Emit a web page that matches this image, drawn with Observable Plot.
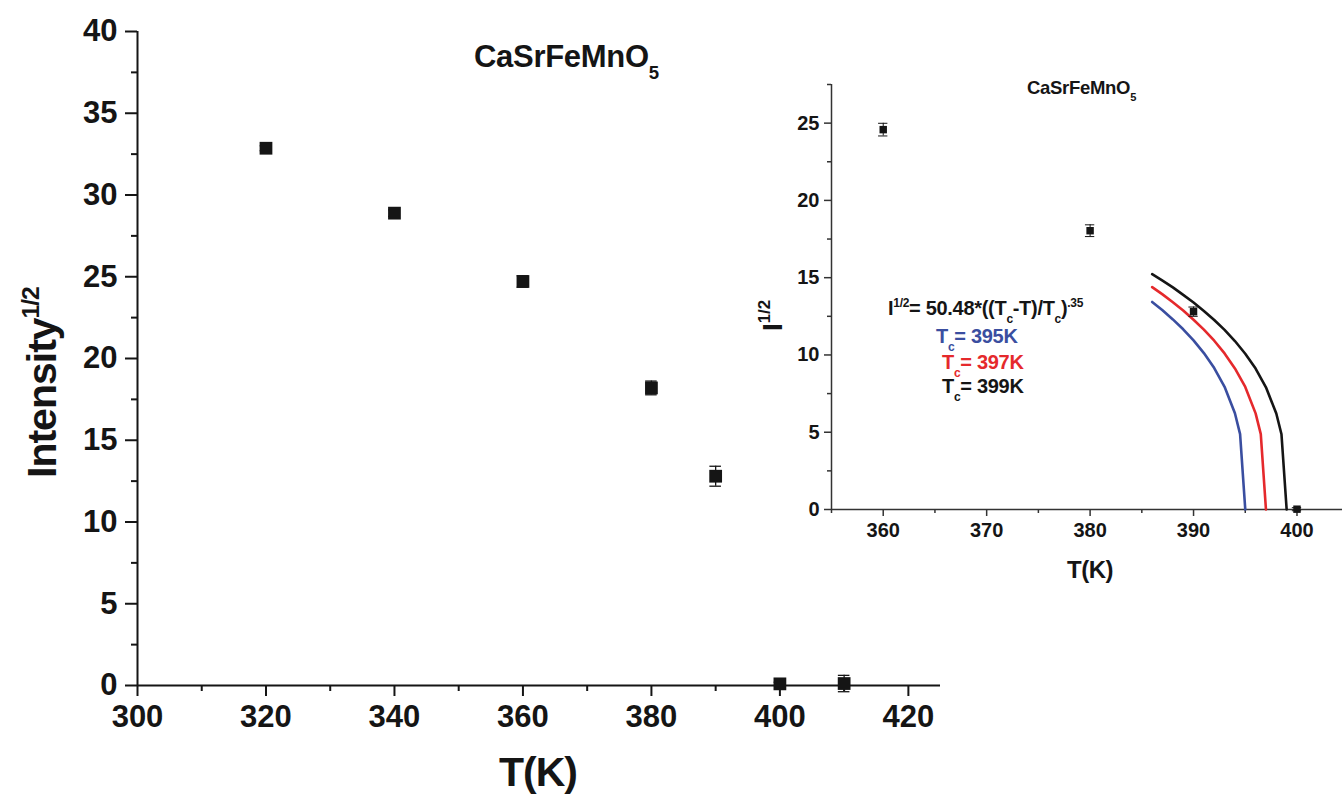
<!DOCTYPE html>
<html>
<head>
<meta charset="utf-8">
<script src="https://cdn.jsdelivr.net/npm/d3@7"></script>
<script src="https://cdn.jsdelivr.net/npm/@observablehq/plot@0.6"></script>
<style>
  html, body { margin: 0; padding: 0; background: #fff; }
  #wrap { position: relative; width: 1342px; height: 795px; background: #fff; overflow: hidden; }
  #wrap svg { position: absolute; overflow: visible; }
</style>
</head>
<body>
<div id="wrap"></div>
<script>
// ---------- data ----------
const mainT   = [320, 340, 360, 380, 390, 400, 410];
const mainI   = [32.86, 28.89, 24.71, 18.2, 12.8, 0.1, 0.12];
const mainErr = [0.15, 0.2, 0.35, 0.42, 0.61, 0.1, 0.5];

const insetT   = [360, 380, 390, 400];
const insetI   = [24.58, 18.04, 12.8, 0.02];
const insetErr = [0.41, 0.38, 0.3, 0.1];

// fitted curves I^1/2 = 50.48*((Tc-T)/Tc)^.35
const fitT395 = [386, 387, 388, 389, 390, 391, 392, 393, 394, 394.5, 395];
const fitI395 = [13.43, 12.89, 12.30, 11.66, 10.94, 10.12, 9.15, 7.94, 6.23, 4.88, 0];
const fitT397 = [386, 387, 388, 389, 390, 391, 392, 393, 394, 395, 396, 396.5, 397];
const fitI397 = [14.39, 13.92, 13.41, 12.87, 12.28, 11.64, 10.92, 10.10, 9.13, 7.93, 6.22, 4.88, 0];
const fitT399 = [386, 387, 388, 389, 390, 391, 392, 393, 394, 395, 396, 397, 398, 398.5, 399];
const fitI399 = [15.23, 14.81, 14.37, 13.89, 13.39, 12.85, 12.26, 11.62, 10.90, 10.08, 9.12, 7.91, 6.21, 4.87, 0];

const mainXTicks  = [300, 320, 340, 360, 380, 400, 420];
const mainXMinor  = [310, 330, 350, 370, 390, 410];
const mainYTicks  = [0, 5, 10, 15, 20, 25, 30, 35, 40];
const mainYMinor  = [2.5, 7.5, 12.5, 17.5, 22.5, 27.5, 32.5, 37.5];
const insetXTicks = [360, 370, 380, 390, 400];
const insetXMinor = [355, 365, 375, 385, 395];
const insetYTicks = [0, 5, 10, 15, 20, 25];
const insetYMinor = [2.5, 7.5, 12.5, 17.5, 22.5, 27.5];

const BLUE = "#3a4ea0", RED = "#e5292c", INK = "#151515";
const FONT = "'Liberation Sans', Arial, Helvetica, sans-serif";

// ---------- helpers ----------
const rows = (T, I, E) => T.map((t, i) => ({T: t, I: I[i], e: E ? E[i] : 0}));
const mainData = rows(mainT, mainI, mainErr);
const insetData = rows(insetT, insetI, insetErr);
const curves = [
  ...rows(fitT395, fitI395).map(d => ({...d, k: "395"})),
  ...rows(fitT397, fitI397).map(d => ({...d, k: "397"})),
  ...rows(fitT399, fitI399).map(d => ({...d, k: "399"}))
];

function rich(svg, x, y, parts, {size, color = INK, anchor = "start", rotate = 0, spacing = 0}) {
  const t = d3.select(svg).append("text")
    .attr("transform", `translate(${x},${y})` + (rotate ? ` rotate(${rotate})` : ""))
    .attr("text-anchor", anchor)
    .attr("fill", color)
    .attr("font-family", FONT)
    .attr("font-weight", "bold")
    .attr("letter-spacing", spacing)
    .attr("font-size", size);
  let cur = 0;
  for (const [s, m] of parts) {
    const off = m === "sup" ? -size * 0.42 : m === "sub" ? size * 0.38 : 0;
    t.append("tspan")
      .attr("dy", off - cur)
      .attr("font-size", m ? size * 0.6 : size)
      .text(s);
    cur = off;
  }
  return t;
}

// ---------- main chart ----------
const main = Plot.plot({
  width: 960, height: 795,
  marginLeft: 137, marginRight: 20, marginTop: 31, marginBottom: 110,
  x: {domain: [300, 425]},
  y: {domain: [0, 40]},
  style: {fontFamily: FONT, fontWeight: "bold", fontSize: "30px", color: INK, background: "transparent"},
  marks: [
    Plot.axisY({ticks: mainYTicks, tickSize: 12, tickPadding: 8, strokeWidth: 2, label: null, fontSize: 31, fontWeight: "bold"}),
    Plot.axisY({ticks: mainYMinor, tickSize: 6, tickFormat: () => "", strokeWidth: 2, label: null}),
    Plot.axisX({ticks: mainXTicks, tickSize: 11, tickPadding: 8, strokeWidth: 2, label: null, fontSize: 31, fontWeight: "bold"}),
    Plot.axisX({ticks: mainXMinor, tickSize: 6, tickFormat: () => "", strokeWidth: 2, label: null}),
    Plot.ruleX([300], {strokeWidth: 2, stroke: INK}),
    Plot.ruleY([0], {strokeWidth: 2, stroke: INK}),
    Plot.ruleX(mainData, {x: "T", y1: d => d.I - d.e, y2: d => d.I + d.e, stroke: INK, strokeWidth: 1.3}),
    Plot.ruleY(mainData, {y: d => d.I + d.e, x1: d => d.T - 0.9, x2: d => d.T + 0.9, stroke: INK, strokeWidth: 1.3}),
    Plot.ruleY(mainData, {y: d => d.I - d.e, x1: d => d.T - 0.9, x2: d => d.T + 0.9, stroke: INK, strokeWidth: 1.3}),
    Plot.dot(mainData, {x: "T", y: "I", symbol: "square", r: 7.2, fill: INK, stroke: null})
  ]
});
main.style.left = "0px"; main.style.top = "0px";

rich(main, 474, 67, [["CaSrFeMnO", ""], ["5", "sub"]], {size: 31, spacing: -0.3});
rich(main, 56, 478, [["Intensity", ""], ["1/2", "sup"]], {size: 41, rotate: -90, spacing: -1});
rich(main, 538, 786, [["T(K)", ""]], {size: 41, anchor: "middle", spacing: -1});

// ---------- inset ----------
const AX = "#333";
const inset = Plot.plot({
  width: 582, height: 540,
  marginLeft: 71, marginRight: 0, marginTop: 24, marginBottom: 91,
  x: {domain: [355, 404.4]},
  y: {domain: [0, 27.5]},
  color: {domain: ["395", "397", "399"], range: [BLUE, RED, INK]},
  style: {fontFamily: FONT, fontWeight: "bold", fontSize: "20px", color: INK, background: "transparent"},
  marks: [
    Plot.axisY({ticks: insetYTicks, tickSize: 7, tickPadding: 5, strokeWidth: 1.5, stroke: AX, label: null, fontSize: 20, fontWeight: "bold"}),
    Plot.axisY({ticks: insetYMinor, tickSize: 4, tickFormat: () => "", strokeWidth: 1.5, stroke: AX, label: null}),
    Plot.axisX({ticks: insetXTicks, tickSize: 7, tickPadding: 6, strokeWidth: 1.5, stroke: AX, label: null, fontSize: 20, fontWeight: "bold"}),
    Plot.axisX({ticks: insetXMinor, tickSize: 4, tickFormat: () => "", strokeWidth: 1.5, stroke: AX, label: null}),
    Plot.ruleX([355], {strokeWidth: 1.5, stroke: AX}),
    Plot.ruleY([0], {strokeWidth: 1.5, stroke: AX}),
    Plot.line(curves, {x: "T", y: "I", z: "k", stroke: "k", strokeWidth: 2.6, curve: "linear"}),
    Plot.ruleX(insetData, {x: "T", y1: d => d.I - d.e, y2: d => d.I + d.e, stroke: INK, strokeWidth: 1}),
    Plot.ruleY(insetData, {y: d => d.I + d.e, x1: d => d.T - 0.45, x2: d => d.T + 0.45, stroke: INK, strokeWidth: 1}),
    Plot.ruleY(insetData, {y: d => d.I - d.e, x1: d => d.T - 0.45, x2: d => d.T + 0.45, stroke: INK, strokeWidth: 1}),
    Plot.dot(insetData, {x: "T", y: "I", symbol: "square", r: 4.2, fill: INK, stroke: null})
  ]
});
inset.style.left = "760px"; inset.style.top = "60px";

// inset texts (coordinates local to inset svg: page minus (760,60))
rich(inset, 1027 - 760, 94 - 60, [["CaSrFeMnO", ""], ["5", "sub"]], {size: 18.5, spacing: -0.3});
rich(inset, 782 - 760, 331 - 60, [["I", ""], ["1/2", "sup"]], {size: 28, rotate: -90});
rich(inset, 1090 - 760, 578 - 60, [["T(K)", ""]], {size: 24, anchor: "middle", spacing: -0.5});
rich(inset, 888 - 760, 315 - 60,
  [["I", ""], ["1/2", "sup"], ["= 50.48*((T", ""], ["c", "sub"], ["-T)/T", ""], ["c", "sub"], [")", ""], [".35", "sup"]],
  {size: 20, spacing: -0.3});
rich(inset, 936 - 760, 343 - 60, [["T", ""], ["c", "sub"], ["= 395K", ""]], {size: 20, color: BLUE, spacing: -0.3});
rich(inset, 942 - 760, 369 - 60, [["T", ""], ["c", "sub"], ["= 397K", ""]], {size: 20, color: RED, spacing: -0.3});
rich(inset, 942 - 760, 393 - 60, [["T", ""], ["c", "sub"], ["= 399K", ""]], {size: 20, color: INK, spacing: -0.3});

const wrap = document.getElementById("wrap");
wrap.appendChild(main);
wrap.appendChild(inset);
</script>
</body>
</html>
